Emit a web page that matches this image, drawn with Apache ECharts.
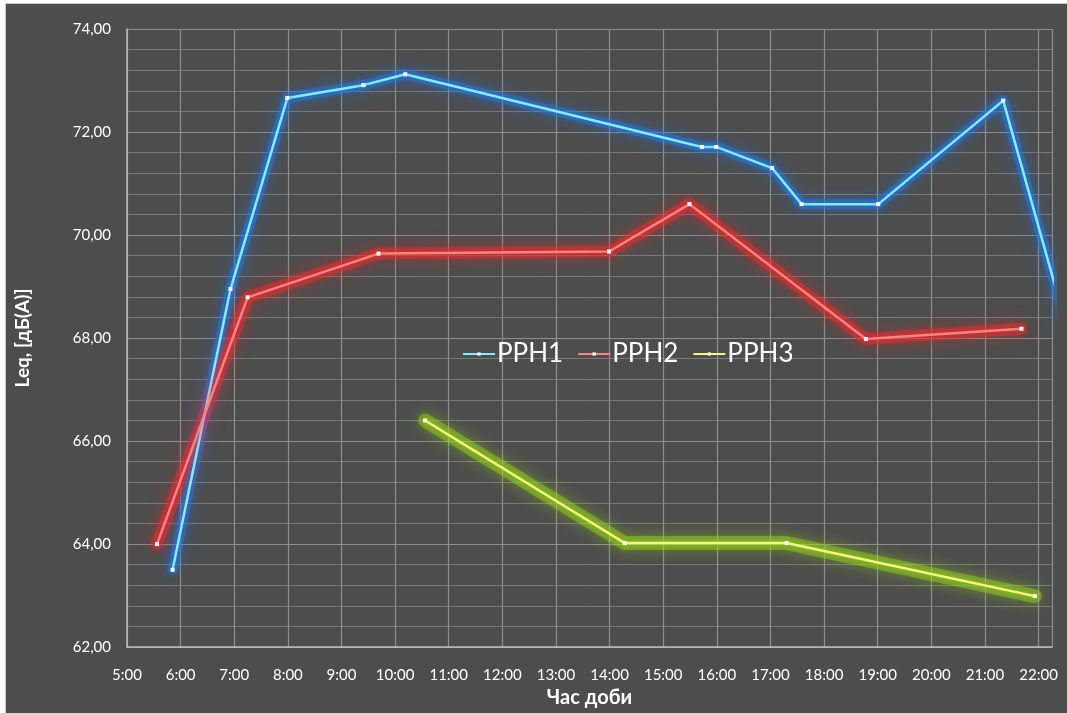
<!DOCTYPE html>
<html>
<head>
<meta charset="utf-8">
<script src="https://cdn.jsdelivr.net/npm/echarts@6/dist/echarts.min.js"></script>
<style>
  html, body { margin: 0; padding: 0; background: #ffffff; width: 1067px; height: 713px; overflow: hidden; }
  #frame { position: absolute; left: 5px; top: 3px; width: 1062px; height: 710px;
           border-left: 1px solid #c8c8c8; border-top: 1px solid #c8c8c8; box-sizing: border-box; pointer-events: none; }
  #chart { position: absolute; left: 5px; top: 3px; width: 1062px; height: 710px; }
</style>
</head>
<body>
<div id="chart"></div>
<div id="frame"></div>
<script>
// Time of day in decimal hours, Leq in dB(A)
const seriesNames = ['PPH1', 'PPH2', 'PPH3'];

const pph1Hours = [5.85, 6.93, 7.99, 9.41, 10.19, 15.72, 15.99, 17.03, 17.58, 19.01, 21.34, 22.5];
const pph1Leq   = [63.5, 68.95, 72.66, 72.91, 73.12, 71.71, 71.71, 71.30, 70.60, 70.60, 72.61, 68.3];

const pph2Hours = [5.56, 7.25, 9.69, 13.99, 15.49, 18.78, 21.68];
const pph2Leq   = [64.0, 68.79, 69.64, 69.68, 70.60, 67.98, 68.18];

const pph3Hours = [10.56, 14.28, 17.30, 21.93];
const pph3Leq   = [66.40, 64.02, 64.02, 62.99];

const xTitle = 'Час доби';
const yTitle = 'Leq, [дБ(А)]';

const pairs = (xs, ys) => xs.map((x, i) => [x, ys[i]]);

const FONT = 'Lato, "Open Sans", sans-serif';

// soft wide halo drawn underneath each line
function haloLine(name, data, glow, width) {
  return {
    name: name + '_halo',
    type: 'line',
    data: data,
    clip: true,
    symbol: 'none',
    silent: true,
    lineStyle: { color: glow, width: width, opacity: 0.42, shadowColor: glow, shadowBlur: 16, cap: 'round', join: 'round' },
    emphasis: { disabled: true },
    z: 2
  };
}

function coreLine(name, data, core, glow, legendColor) {
  return {
    name: name,
    type: 'line',
    data: data,
    clip: true,
    symbol: 'rect',
    symbolSize: 4,
    color: legendColor,
    lineStyle: { color: core, width: 2.5, shadowColor: glow, shadowBlur: 6 },
    itemStyle: { color: '#ffffff', borderWidth: 0, shadowColor: glow, shadowBlur: 8 },
    emphasis: { disabled: true },
    z: 3
  };
}

const chart = echarts.init(document.getElementById('chart'));
chart.setOption({
  backgroundColor: '#4d4d4d',
  animation: false,
  textStyle: { fontFamily: FONT },
  grid: { left: 116, top: 26, right: 15, bottom: 54, containLabel: false },
  legend: {
    data: seriesNames,
    left: 452,
    top: 333,
    itemWidth: 32,
    itemHeight: 4,
    itemGap: 14,
    textStyle: { color: '#ffffff', fontSize: 26, fontFamily: FONT, padding: [0, 0, 0, -3] },
    backgroundColor: 'transparent'
  },
  xAxis: {
    type: 'value',
    min: 5,
    max: 22.25,
    interval: 1,
    name: xTitle,
    nameLocation: 'middle',
    nameGap: 34,
    nameTextStyle: { color: '#ffffff', fontSize: 20, fontWeight: 'bold', fontFamily: FONT },
    axisLine: { show: true, lineStyle: { color: '#bdbdbd', width: 1.5 } },
    axisTick: { show: false },
    axisLabel: {
      color: '#ffffff', fontSize: 15, margin: 21, showMaxLabel: false,
      formatter: v => Math.round(v) + ':00'
    },
    splitLine: { show: true, lineStyle: { color: '#8e8e8e', width: 1.2 } }
  },
  yAxis: {
    type: 'value',
    min: 62,
    max: 74,
    interval: 2,
    name: yTitle,
    nameLocation: 'middle',
    nameGap: 95,
    nameRotate: 90,
    nameTextStyle: { color: '#ffffff', fontSize: 19, fontWeight: 'bold', fontFamily: FONT },
    axisLine: { show: true, lineStyle: { color: '#bdbdbd', width: 1.5 } },
    axisTick: { show: false },
    axisLabel: {
      color: '#ffffff', fontSize: 15, margin: 16,
      formatter: v => v.toFixed(2).replace('.', ',')
    },
    splitLine: { show: true, lineStyle: { color: '#8e8e8e', width: 1.2 } },
    minorTick: { show: false, splitNumber: 5 },
    minorSplitLine: { show: true, lineStyle: { color: '#7a7a7a', width: 1 } }
  },
  series: [
    haloLine(seriesNames[0], pairs(pph1Hours, pph1Leq), '#1f7cf0', 10),
    haloLine(seriesNames[1], pairs(pph2Hours, pph2Leq), '#f42a2a', 12),
    haloLine(seriesNames[2], pairs(pph3Hours, pph3Leq), '#98dc18', 14),
    coreLine(seriesNames[0], pairs(pph1Hours, pph1Leq), '#86ecff', '#1f7cf0', '#6fe0f0'),
    coreLine(seriesNames[1], pairs(pph2Hours, pph2Leq), '#ff8282', '#f42a2a', '#f07068'),
    coreLine(seriesNames[2], pairs(pph3Hours, pph3Leq), '#f8f880', '#98dc18', '#f2ee7a')
  ]
});
</script>
</body>
</html>
